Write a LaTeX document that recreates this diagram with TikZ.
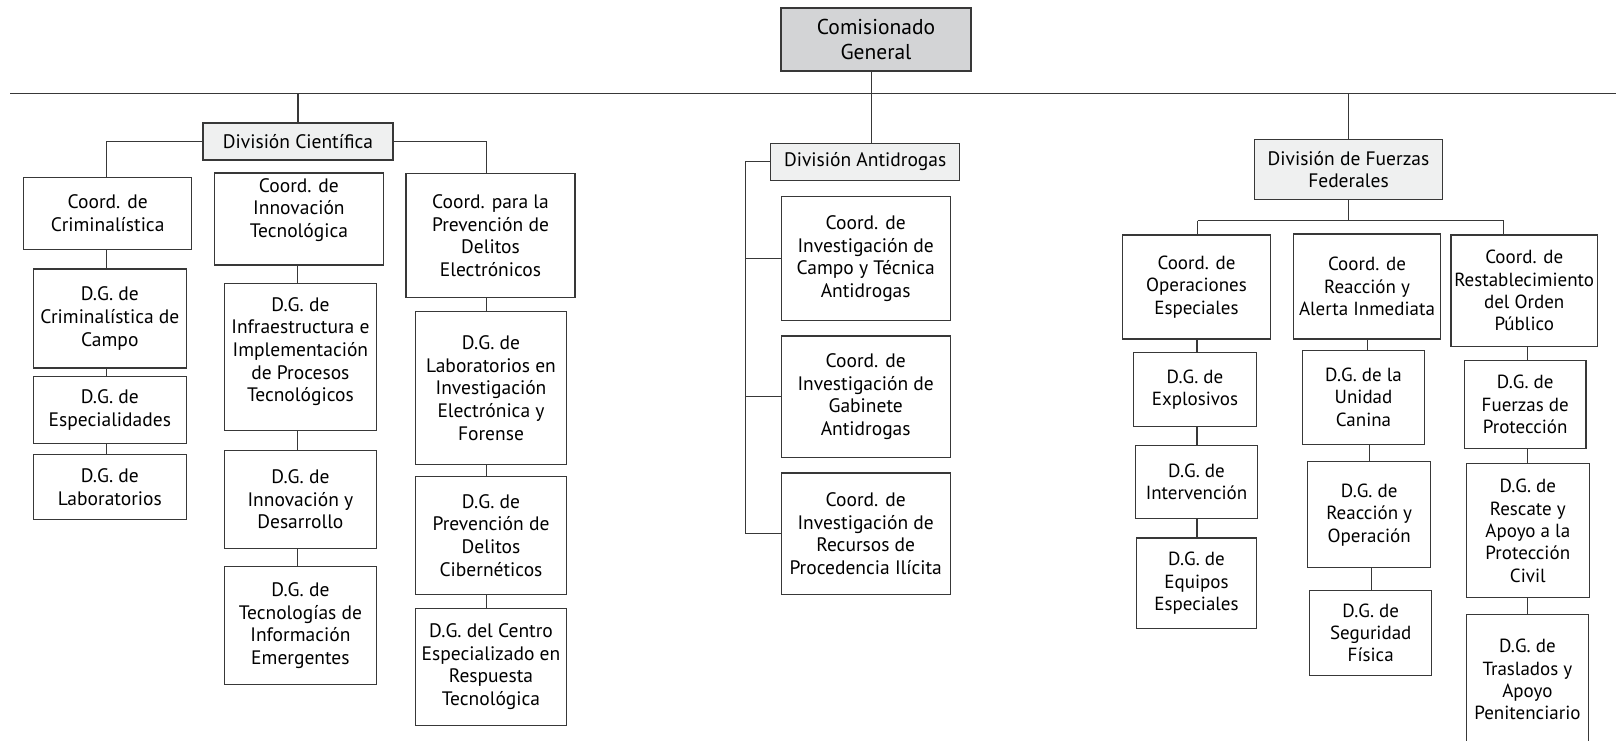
\documentclass[tikz,border=0pt]{standalone}
\usepackage{fontspec}
\setmainfont{PT Sans}
\definecolor{linegray}{HTML}{383838}
\definecolor{cgfill}{HTML}{D3D4D6}
\definecolor{divfill}{HTML}{EFF0F0}
\begin{document}
\begin{tikzpicture}[x=1pt,y=-1pt,
  box/.style={draw=linegray, line width=1.1pt, align=center, inner xsep=0pt, inner ysep=2pt, fill=white},
  lbox/.style={box, font=\fontsize{19.5}{22.6}\selectfont},
  rbox/.style={box, font=\fontsize{19}{22.4}\selectfont},
  cgbox/.style={box, fill=cgfill, font=\fontsize{21.5}{25.8}\selectfont},
  divl/.style={lbox, fill=divfill},
  divr/.style={rbox, fill=divfill},
  conn/.style={draw=linegray, line width=1.1pt},
  bw/.style 2 args={minimum width=#1, minimum height=#2},
  liftby/.style={text depth=#1}
]
\useasboundingbox (0,0) rectangle (1616,740);

% top
\node[cgbox, bw={190}{63}] (cg) at (876,39.5) {Comisionado\\General};
\coordinate (busL) at (10.3,93.8);
\coordinate (busR) at (1616,93.8);
\draw[conn] (busL) -- (busR);

% Division Cientifica
\node[divl, bw={190}{37}] (dc) at (298,141.5) {División Científica};
\node[lbox, bw={168}{72}] (ccrim) at (107.7,213.3) {Coord. de\\Criminalística};
\node[lbox, bw={153.5}{99}] (dgcc) at (109.8,318.5) {D.G. de\\Criminalística de\\Campo};
\node[lbox, bw={153.5}{67}] (dgesp) at (109.8,409.7) {D.G. de\\Especialidades};
\node[lbox, bw={153.5}{65}] (dglab) at (109.8,487) {D.G. de\\Laboratorios};

\node[lbox, bw={169}{92}, liftby=22pt] (cinn) at (298.9,219) {Coord. de\\Innovación\\Tecnológica};
\node[lbox, bw={151.5}{147.4}, liftby=15pt] (dginfra) at (300.4,357.1) {D.G. de\\Infraestructura e\\Implementación\\de Procesos\\Tecnológicos};
\node[lbox, bw={151.5}{98}] (dginn) at (300.4,499.3) {D.G. de\\Innovación y\\Desarrollo};
\node[lbox, bw={151.5}{117.5}] (dgtec) at (300.4,625.6) {D.G. de\\Tecnologías de\\Información\\Emergentes};

\node[lbox, bw={169}{124.7}] (cprev) at (490.5,235.5) {Coord. para la\\Prevención de\\Delitos\\Electrónicos};
\node[lbox, bw={151.5}{153.6}] (dglabinv) at (491,388) {D.G. de\\Laboratorios en\\Investigación\\Electrónica y\\Forense};
\node[lbox, bw={151.5}{118.5}] (dgcib) at (491,535.4) {D.G. de\\Prevención de\\Delitos\\Cibernéticos};
\node[lbox, bw={151.5}{117.5}] (dgcentro) at (491,666.8) {D.G. del Centro\\Especializado en\\Respuesta\\Tecnológica};

% Division Antidrogas
\node[divl, bw={188.6}{37.1}] (da) at (865.2,161.8) {División Antidrogas};
\node[lbox, bw={169}{123.7}] (cic) at (865.7,258.7) {Coord. de\\Investigación de\\Campo y Técnica\\Antidrogas};
\node[lbox, bw={169}{121.6}] (cig) at (865.7,396.8) {Coord. de\\Investigación de\\Gabinete\\Antidrogas};
\node[lbox, bw={169}{121.6}] (cir) at (865.7,533.8) {Coord. de\\Investigación de\\Recursos de\\Procedencia Ilícita};

% Division de Fuerzas Federales
\node[divl, bw={188.6}{60.8}] (dff) at (1348.5,169.5) {División de Fuerzas\\Federales};
\node[rbox, bw={148.4}{104}] (coe) at (1196.5,287) {Coord. de\\Operaciones\\Especiales};
\node[rbox, bw={122.6}{74.2}] (dgexp) at (1195,389.6) {D.G. de\\Explosivos};
\node[rbox, bw={121.6}{73.2}] (dgint) at (1196.5,481.8) {D.G. de\\Intervención};
\node[rbox, bw={119.5}{90.7}] (dgeq) at (1196.5,583.3) {D.G. de\\Equipos\\Especiales};

\node[rbox, bw={147.4}{105}] (crai) at (1367,286.5) {Coord. de\\Reacción y\\Alerta Inmediata};
\node[rbox, bw={121.6}{93.8}] (dgcan) at (1363.5,397.3) {D.G. de la\\Unidad\\Canina};
\node[rbox, bw={122.7}{106.2}] (dgryo) at (1369.2,514.8) {D.G. de\\Reacción y\\Operación};
\node[rbox, bw={121.6}{84.5}] (dgseg) at (1370.7,632.8) {D.G. de\\Seguridad\\Física};

\node[rbox, bw={146.4}{111.3}] (crop) at (1524.2,290.6) {Coord. de\\Restablecimiento\\del Orden\\Público};
\node[rbox, bw={121.6}{87.6}] (dgfp) at (1525.2,404.5) {D.G. de\\Fuerzas de\\Protección};
\node[rbox, bw={122.6}{134}] (dgres) at (1527.8,530.8) {D.G. de\\Rescate y\\Apoyo a la\\Protección\\Civil};
\node[rbox, bw={121.6}{131}] (dgtras) at (1527.4,679.7) {D.G. de\\Traslados y\\Apoyo\\Penitenciario};

% column coordinates
\coordinate (cgx) at (871.9,0);
\coordinate (c1) at (106.2,0);
\coordinate (c2) at (297.8,0);
\coordinate (c3) at (486.4,0);
\coordinate (adx) at (745.1,0);
\coordinate (fbL) at (1197.6,220.5);
\coordinate (fbR) at (1503.6,220.5);
\coordinate (c5) at (1197,0);
\coordinate (c6a) at (1367.6,0);
\coordinate (c6b) at (1369.7,0);
\coordinate (c6c) at (1371.5,0);
\coordinate (c7) at (1527.8,0);

% connectors: top
\draw[conn] (cg.south -| cgx) -- (da.north -| cgx);
\draw[conn] (dc.north) -- (dc.north |- busL);
\draw[conn] (dff.north) -- (dff.north |- busL);

% Cientifica
\draw[conn] (dc.west) -| (c1 |- ccrim.north);
\draw[conn] (dc.east) -| (c3 |- cprev.north);
\draw[conn] (c1 |- ccrim.south) -- (c1 |- dgcc.north);
\draw[conn] (c1 |- dgcc.south) -- (c1 |- dgesp.north);
\draw[conn] (c1 |- dgesp.south) -- (c1 |- dglab.north);
\draw[conn] (c2 |- cinn.south) -- (c2 |- dginfra.north);
\draw[conn] (c2 |- dginfra.south) -- (c2 |- dginn.north);
\draw[conn] (c2 |- dginn.south) -- (c2 |- dgtec.north);
\draw[conn] (c3 |- cprev.south) -- (c3 |- dglabinv.north);
\draw[conn] (c3 |- dglabinv.south) -- (c3 |- dgcib.north);
\draw[conn] (c3 |- dgcib.south) -- (c3 |- dgcentro.north);

% Antidrogas
\draw[conn] (da.west) -- (adx |- da.west) -- (adx |- cir.west);
\draw[conn] (adx |- cic.west) -- (cic.west);
\draw[conn] (adx |- cig.west) -- (cig.west);
\draw[conn] (adx |- cir.west) -- (cir.west);

% Fuerzas Federales
\draw[conn] (dff.south) -- (dff.south |- fbL);
\draw[conn] (fbL) -- (fbR);
\draw[conn] (fbL) -- (fbL |- coe.north);
\draw[conn] (fbR) -- (fbR |- crop.north);
\draw[conn] (c5 |- coe.south) -- (c5 |- dgexp.north);
\draw[conn] (c5 |- dgexp.south) -- (c5 |- dgint.north);
\draw[conn] (c5 |- dgint.south) -- (c5 |- dgeq.north);
\draw[conn] (c6a |- crai.south) -- (c6a |- dgcan.north);
\draw[conn] (c6b |- dgcan.south) -- (c6b |- dgryo.north);
\draw[conn] (c6c |- dgryo.south) -- (c6c |- dgseg.north);
\draw[conn] (c7 |- crop.south) -- (c7 |- dgfp.north);
\draw[conn] (c7 |- dgfp.south) -- (c7 |- dgres.north);
\draw[conn] (c7 |- dgres.south) -- (c7 |- dgtras.north);
\end{tikzpicture}
\end{document}
